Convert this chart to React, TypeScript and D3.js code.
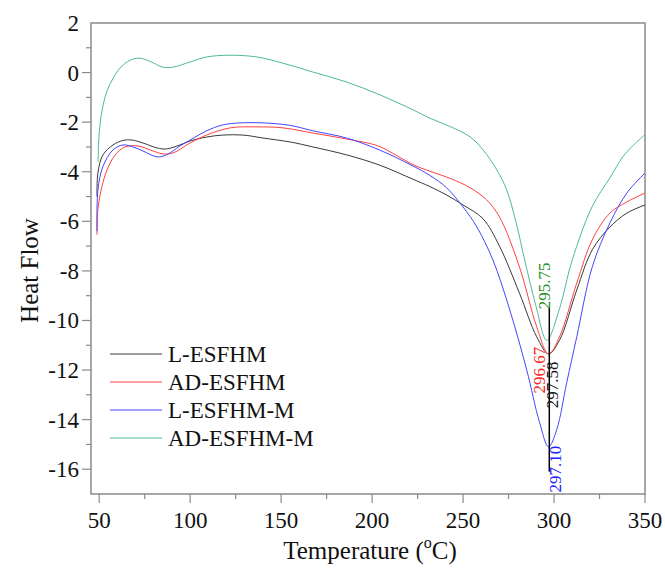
import React from "react";
import * as d3 from "d3";

// temperature (°C) / heat flow readings per sample
const lEsfhm: [number, number][] = [
  [48.8, -5.0], [49.3, -4.05], [52, -3.33], [57.6, -2.92], [63, -2.74], [68, -2.72],
  [74, -2.84], [81.8, -3.04], [87, -3.08], [94.4, -2.92], [100, -2.76], [109, -2.6],
  [118, -2.52], [129, -2.52], [140, -2.64], [155, -2.8], [167.5, -3.0], [186, -3.32],
  [204, -3.73], [222.4, -4.3], [231.8, -4.6], [241, -4.94], [250, -5.34], [261, -5.9],
  [270, -7.0], [281, -8.9], [290.5, -10.66], [297, -11.35], [303, -10.8], [312.5, -8.77],
  [321, -7.15], [330.7, -6.23], [340, -5.67], [350, -5.34],
];

const adEsfhm: [number, number][] = [
  [48.8, -6.55], [49.3, -5.5], [51.5, -4.6], [54.3, -3.93], [58.7, -3.33], [64.2, -3.0],
  [71.3, -2.96], [78, -3.12], [85, -3.28], [90.6, -3.24], [100, -2.84], [109, -2.52],
  [122, -2.23], [136.7, -2.19], [151, -2.23], [167.5, -2.44], [186, -2.68], [203, -2.95],
  [213.6, -3.35], [222, -3.7], [231.8, -3.98], [243, -4.27], [254, -4.65], [263, -5.14],
  [270, -5.82], [281, -7.84], [290.5, -10.26], [297, -11.35], [303, -10.66], [312.5, -8.49],
  [321, -6.75], [330.7, -5.67], [340, -5.22], [350, -4.86],
];

const lEsfhmM: [number, number][] = [
  [48.8, -6.4], [49.3, -4.74], [52, -3.8], [57.6, -3.12], [63, -2.92], [68.6, -3.0],
  [74, -3.16], [81.8, -3.4], [87, -3.32], [94.4, -2.96], [100, -2.72], [109, -2.35],
  [118, -2.11], [127.4, -2.03], [140, -2.03], [155, -2.13], [167.5, -2.35], [186, -2.64],
  [204, -3.12], [222, -3.75], [231.8, -4.15], [241, -4.65], [250, -5.42], [257.6, -6.23],
  [266.4, -7.56], [275.7, -9.58], [285, -12.0], [292, -14.1], [297, -15.1], [301.5, -14.4],
  [307, -12.5], [312.5, -10.66], [321, -7.84], [330.7, -6.07], [340, -4.86], [350, -4.05],
];

const adEsfhmM: [number, number][] = [
  [49.4, -3.6], [49.7, -2.8], [50.6, -2.0], [52.2, -1.3], [54.5, -0.7], [57.5, -0.25],
  [61.4, 0.18], [67, 0.5], [72.4, 0.58], [78, 0.45], [85, 0.22], [90.6, 0.22], [100, 0.43],
  [109, 0.63], [122, 0.7], [136.7, 0.63], [151, 0.38], [167.5, 0.02], [186, -0.38],
  [204.3, -0.9], [222.4, -1.5], [231.8, -1.84], [243, -2.18], [254, -2.6], [261, -3.12],
  [268.6, -3.93], [274, -4.74], [279, -6.0], [284, -7.6], [290, -9.4], [296, -10.8],
  [302.7, -9.6], [310, -7.56], [321, -5.4], [330.7, -4.25], [337.8, -3.4], [344, -2.9],
  [350, -2.5],
];

const seriesNames = ["L-ESFHM", "AD-ESFHM", "L-ESFHM-M", "AD-ESFHM-M"];
const seriesData = [lEsfhm, adEsfhm, lEsfhmM, adEsfhmM];
const seriesColors = ["#3a3a3a", "#ff4040", "#4545ff", "#4fb89e"];

const xTicks = [50, 100, 150, 200, 250, 300, 350];
const yTicks = [2, 0, -2, -4, -6, -8, -10, -12, -14, -16];

// peak labels: text, temperature, heat flow at label centre, colour
const peakLabels = [
  { text: "295.75", t: 295.0, h: -8.6, color: "#1f8f1f" },
  { text: "296.67", t: 292.4, h: -12.0, color: "#ff2020" },
  { text: "297.58", t: 299.6, h: -12.6, color: "#111111" },
  { text: "297.10", t: 301.2, h: -16.0, color: "#2020ff" },
];
const peakLineT = 297.4;
const peakLine = [-9.5, -16.1];

const FONT = "Liberation Serif, Times New Roman, DejaVu Serif, serif";

export default function App() {
  const width = 665;
  const height = 571;
  const margin = { top: 23, right: 20, bottom: 77, left: 91 };

  const x = d3.scaleLinear().domain([45.5, 350]).range([margin.left, width - margin.right]);
  const y = d3.scaleLinear().domain([2, -17]).range([margin.top, height - margin.bottom]);

  const line = d3
    .line<[number, number]>()
    .x((d) => x(d[0]))
    .y((d) => y(d[1]))
    .curve(d3.curveCatmullRom.alpha(0.5));

  const axisColor = "#8a8a8a";
  const x0 = margin.left;
  const x1 = width - margin.right;
  const y0 = margin.top;
  const y1 = height - margin.bottom;

  const minorX = d3.range(50, 351, 25);
  const minorY = d3.range(1, -17, -1);

  return (
    <svg width={width} height={height} style={{ position: "absolute", left: 0, top: 0, background: "#fff" }}>
      {/* frame */}
      <rect x={x0} y={y0} width={x1 - x0} height={y1 - y0} fill="none" stroke={axisColor} strokeWidth={1.5} />

      {/* x ticks */}
      {minorX.map((t) => (
        <line
          key={"mx" + t}
          x1={x(t)}
          x2={x(t)}
          y1={y1}
          y2={y1 + (t % 50 === 0 ? 9 : 5)}
          stroke={axisColor}
          strokeWidth={1.2}
        />
      ))}
      {xTicks.map((t) => (
        <text key={"xt" + t} x={x(t)} y={y1 + 34} textAnchor="middle" fontFamily={FONT} fontSize={23} fill="#111">
          {t}
        </text>
      ))}

      {/* y ticks */}
      {minorY.map((t) => (
        <line
          key={"my" + t}
          x1={x0}
          x2={x0 - (t % 2 === 0 ? 9 : 5)}
          y1={y(t)}
          y2={y(t)}
          stroke={axisColor}
          strokeWidth={1.2}
        />
      ))}
      {yTicks.map((t) => (
        <text
          key={"yt" + t}
          x={x0 - 12}
          y={y(t) + 8}
          textAnchor="end"
          fontFamily={FONT}
          fontSize={23}
          fill="#111"
        >
          {t}
        </text>
      ))}

      {/* axis titles */}
      <text
        transform={`translate(38,${(y0 + y1) / 2 + 12}) rotate(-90)`}
        textAnchor="middle"
        fontFamily={FONT}
        fontSize={25}
        fill="#111"
      >
        Heat Flow
      </text>
      <text x={(x0 + x1) / 2 + 2} y={height - 12} textAnchor="middle" fontFamily={FONT} fontSize={25} fill="#111">
        Temperature (
        <tspan fontSize={16} dy={-11}>o</tspan>
        <tspan dy={11}>C)</tspan>
      </text>

      {/* curves */}
      {seriesData.map((d, i) => (
        <path key={seriesNames[i]} d={line(d) ?? ""} fill="none" stroke={seriesColors[i]} strokeWidth={1} />
      ))}

      {/* peak marker */}
      <line
        x1={x(peakLineT)}
        x2={x(peakLineT)}
        y1={y(peakLine[0])}
        y2={y(peakLine[1])}
        stroke="#000"
        strokeWidth={1.5}
      />
      {peakLabels.map((p) => (
        <text
          key={p.text}
          transform={`translate(${x(p.t) + 5},${y(p.h)}) rotate(-90)`}
          textAnchor="middle"
          fontFamily={FONT}
          fontSize={17}
          fill={p.color}
        >
          {p.text}
        </text>
      ))}

      {/* legend */}
      {seriesNames.map((n, i) => (
        <g key={"lg" + n} transform={`translate(0,${354 + i * 28})`}>
          <line x1={110} x2={162} y1={0} y2={0} stroke={seriesColors[i]} strokeWidth={1} />
          <text x={168} y={8} fontFamily={FONT} fontSize={23} fill="#111">
            {n}
          </text>
        </g>
      ))}
    </svg>
  );
}
